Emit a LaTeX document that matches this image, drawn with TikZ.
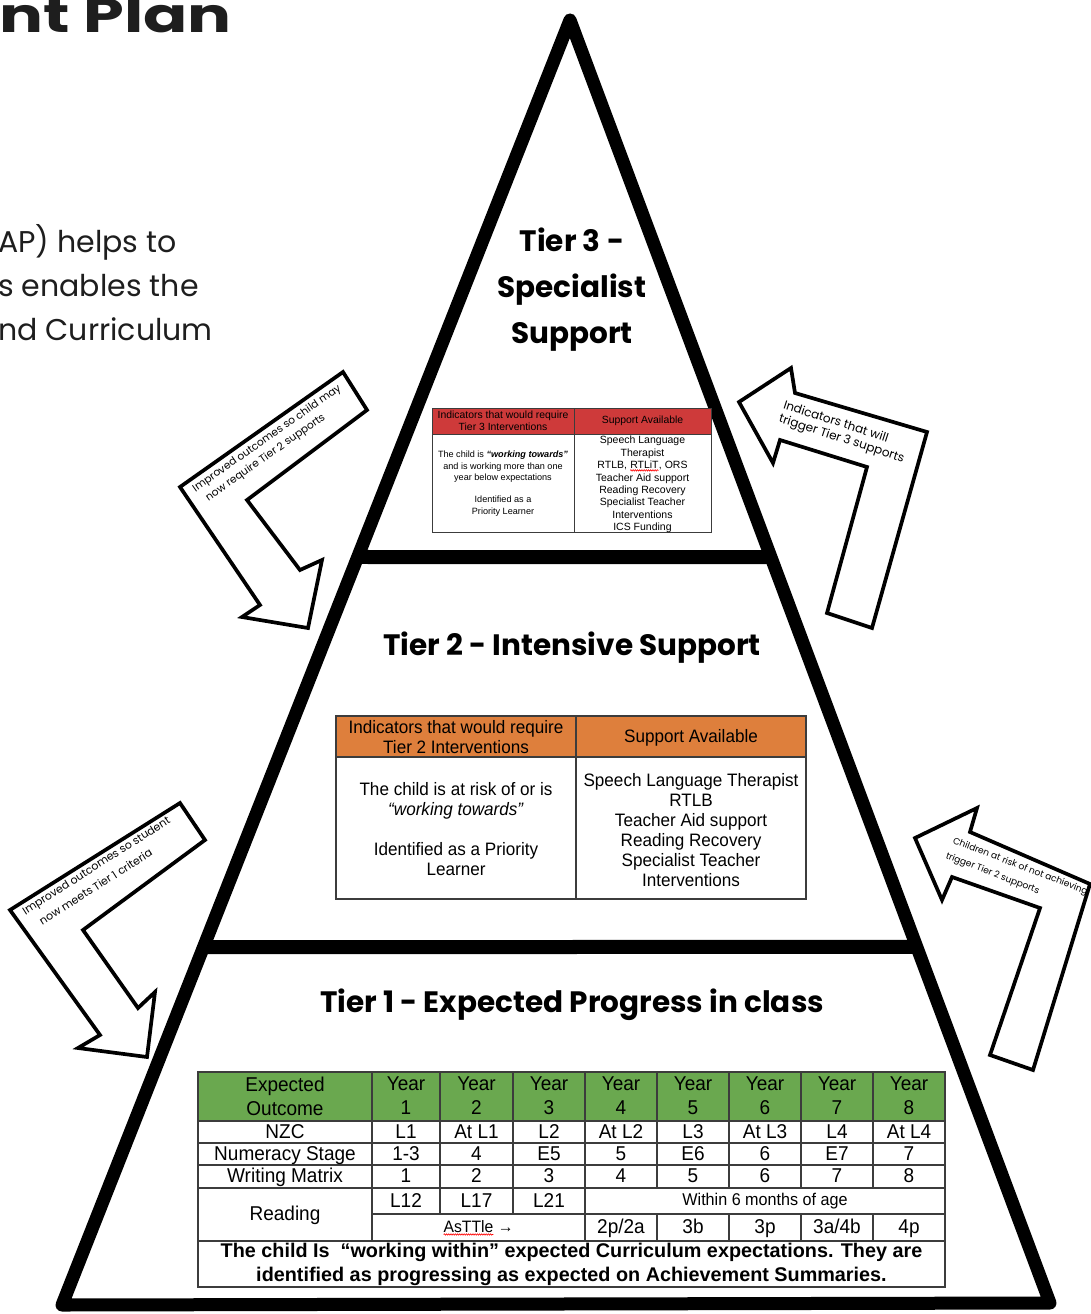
\documentclass[tikz,border=0pt]{standalone}
\usepackage{fontspec}
\setmainfont{Liberation Sans}
\newfontfamily\popf{Poppins}
\newfontfamily\tabf[FakeStretch=0.95]{Liberation Sans}
\usetikzlibrary{calc,decorations.pathmorphing}
\definecolor{tgreen}{RGB}{106,168,79}
\definecolor{tred}{RGB}{206,58,58}
\definecolor{torange}{RGB}{222,127,60}
\definecolor{gridc}{RGB}{60,60,60}
\definecolor{inktext}{RGB}{30,30,30}
\newcommand\wavy[1]{\tikz[baseline=(wv.base)]{\node[inner sep=0pt,outer sep=0pt] (wv) {#1};\draw[red,line width=0.6pt,decorate,decoration={snake,amplitude=0.7pt,segment length=2.2pt}] ([yshift=-1.8pt]wv.south west) -- ([yshift=-1.8pt]wv.south east);}}
\begin{document}
\begin{tikzpicture}[x=1pt,y=-1pt,
  pyr/.style={line width=13pt,line join=round,line cap=round},
  tierbar/.style={line width=14pt},
  bentarrow/.style={draw=black,fill=white,line width=3.7pt,line join=miter,miter limit=6},
  arrlabel/.style={inner sep=0pt,anchor=west},
  tiertitle/.style={font=\popf\bfseries\fontsize{29.5}{46}\selectfont,inner sep=0pt,align=center},
  gridl/.style={draw=gridc,line width=1.1pt},
  cell/.style={inner sep=0pt,align=center},
  t1font/.style={font=\tabf\fontsize{20}{24}\selectfont},
  onecell/.style={text height=14pt,text depth=3pt},
]
\useasboundingbox (0,0) rectangle (1091,1314);
\fill[white] (0,0) rectangle (1091,1314);

% title and intro text (cut by the page edge)
\begin{scope}
\clip (0,0) rectangle (1091,1314);
\node[inner sep=0pt,anchor=base east,text=inktext,font=\popf\bfseries\fontsize{48}{50}\selectfont] (title) at (232,33) {\scalebox{1.36}[1]{nt Plan}};
\end{scope}
\node[inner sep=0pt,anchor=base west,text=inktext,font=\popf\fontsize{30}{44}\selectfont] (intro1) at (-2,252) {AP) helps to};
\node[inner sep=0pt,anchor=base west,text=inktext,font=\popf\fontsize{30}{44}\selectfont] (intro2) at (-2,296) {s enables the};
\node[inner sep=0pt,anchor=base west,text=inktext,font=\popf\fontsize{30}{44}\selectfont] (intro3) at (-2,340) {nd Curriculum};

% pyramid
\coordinate (apex) at (570,20);
\coordinate (bl) at (62,1305);
\coordinate (br) at (1050,1303);
\draw[pyr] (apex) -- (br) -- (bl) -- cycle;
\coordinate (d1l) at ($(apex)!0.4179!(bl)$);
\coordinate (d1r) at ($(apex)!0.4186!(br)$);
\coordinate (d2l) at ($(apex)!0.7214!(bl)$);
\coordinate (d2r) at ($(apex)!0.7225!(br)$);
\draw[tierbar] (d1l) -- (d1r);
\draw[tierbar] (d2l) -- (d2r);

% bent arrows
\draw[bentarrow] (180,487) -- (343,372) -- (367,410) -- (247,500) -- (300,570) -- (322,560) -- (308,628) -- (242,617) -- (260,605) -- cycle;
\draw[bentarrow] (739,402) -- (791,368) -- (795,393) -- (927,432) -- (872,628) -- (827,613) -- (867,467) -- (780,440) -- (773,463) -- cycle;
\draw[bentarrow] (10,910) -- (180,803) -- (205,840) -- (83,930) -- (138,1008) -- (155,992) -- (147,1057) -- (78,1048) -- (100,1035) -- cycle;
\draw[bentarrow] (915,838) -- (977,808) -- (970,832) -- (1090,884) -- (1033,1070) -- (990,1055) -- (1040,908) -- (952,877) -- (942,900) -- cycle;

\node[arrlabel,rotate=35,font=\popf\fontsize{10.6}{12}\selectfont] (a1l1) at (194,490) {Improved outcomes so child may};
\node[arrlabel,rotate=35,font=\popf\fontsize{10.6}{12}\selectfont] (a1l2) at (207,499) {now require Tier 2 supports};
\node[arrlabel,rotate=-18,font=\popf\fontsize{12}{14}\selectfont] (a2l1) at (784,404) {Indicators that will};
\node[arrlabel,rotate=-18,font=\popf\fontsize{12}{14}\selectfont] (a2l2) at (779,419) {trigger Tier 3 supports};
\node[arrlabel,rotate=32.5,font=\popf\fontsize{11}{13}\selectfont] (a3l1) at (24,913) {Improved outcomes so student};
\node[arrlabel,rotate=32.5,font=\popf\fontsize{11}{13}\selectfont] (a3l2) at (40,922) {now meets Tier 1 criteria};
\node[arrlabel,rotate=-21,font=\popf\fontsize{9.1}{11}\selectfont] (a4l1) at (953,841) {Children at risk of not achieving};
\node[arrlabel,rotate=-21,font=\popf\fontsize{9.1}{11}\selectfont] (a4l2) at (946,856) {trigger Tier 2 supports};

% tier titles
\node[tiertitle] (t3title) at (572,290) {Tier 3 -\\Specialist\\Support};
\node[tiertitle] (t2title) at (572,648) {Tier 2 - Intensive Support};
\node[tiertitle] (t1title) at (572,1005) {Tier 1 - Expected Progress in class};

% tier 3 table
\fill[tred] (432,408) rectangle (711,434);
\draw[gridl,line width=0.9pt] (432,408) rectangle (711,532);
\draw[gridl,line width=0.9pt] (432,434) -- (711,434);
\draw[gridl,line width=0.9pt] (574,408) -- (574,532);
\node[cell,font=\fontsize{10.4}{12}\selectfont] (t3h1) at (503,421) {Indicators that would require\\Tier 3 Interventions};
\node[cell,font=\fontsize{10.4}{12}\selectfont] (t3h2) at (642.5,421) {Support Available};
\node[cell,anchor=north,font=\fontsize{9.1}{11.3}\selectfont] (t3b1) at (503,451) {The child is \textbf{\textit{“working towards”}}\\and is working more than one\\year below expectations\\[11.3pt]Identified as a\\Priority Learner};
\node[cell,anchor=north,font=\fontsize{10.5}{12.4}\selectfont] (t3b2) at (642.5,436) {Speech Language\\Therapist\\RTLB, \wavy{RTLiT}, ORS\\Teacher Aid support\\Reading Recovery\\Specialist Teacher\\Interventions\\ICS Funding};

% tier 2 table
\fill[torange] (336,716) rectangle (806,757);
\draw[gridl] (336,716) rectangle (806,899);
\draw[gridl] (336,757) -- (806,757);
\draw[gridl] (576,716) -- (576,899);
\node[cell,font=\tabf\fontsize{18}{20}\selectfont] (t2h1) at (456,737) {Indicators that would require\\Tier 2 Interventions};
\node[cell,font=\tabf\fontsize{18}{20}\selectfont] (t2h2) at (691,738) {Support Available};
\node[cell,anchor=north,font=\tabf\fontsize{18}{20}\selectfont] (t2b1) at (456,782) {The child is at risk of or is\\\textit{“working towards”}\\[20pt]Identified as a Priority\\Learner};
\node[cell,anchor=north,font=\tabf\fontsize{18}{20}\selectfont] (t2b2) at (691,773) {Speech Language Therapist\\RTLB\\Teacher Aid support\\Reading Recovery\\Specialist Teacher\\Interventions};

% tier 1 table
\fill[tgreen] (198,1072) rectangle (945,1121);
\draw[gridl] (198,1072) rectangle (945,1287);
\foreach \yy in {1121,1143,1165,1188,1241} \draw[gridl] (198,\yy) -- (945,\yy);
\draw[gridl] (372,1214) -- (945,1214);
\draw[gridl] (372,1072) -- (372,1241);
\foreach \xx in {440,513} \draw[gridl] (\xx,1072) -- (\xx,1214);
\draw[gridl] (585,1072) -- (585,1241);
\foreach \xx in {657,729,801,873} {\draw[gridl] (\xx,1072) -- (\xx,1188); \draw[gridl] (\xx,1214) -- (\xx,1241);}

\node[cell,t1font] (hexp) at (285,1096) {Expected\\Outcome};
\node[cell,t1font,onecell] (hnzc) at (285,1132.5) {NZC};
\node[cell,t1font,onecell] (hnum) at (285,1154.5) {Numeracy Stage};
\node[cell,t1font,onecell] (hwri) at (285,1177) {Writing Matrix};
\node[cell,t1font,onecell] (hrea) at (285,1215) {Reading};
\foreach \cx/\yr/\nz/\nu in {406/1/L1/1-3, 476.5/2/At L1/4, 549/3/L2/E5, 621/4/At L2/5, 693/5/L3/E6, 765/6/At L3/6, 837/7/L4/E7, 909/8/At L4/7} {
  \node[cell,t1font] (yr\yr) at (\cx,1096) {Year\\\yr};
  \node[cell,t1font,onecell] (nzc\yr) at (\cx,1132.5) {\nz};
  \node[cell,t1font,onecell] (num\yr) at (\cx,1154.5) {\nu};
  \node[cell,t1font,onecell] (wri\yr) at (\cx,1177) {\yr};
}
\node[cell,t1font,onecell] (rda1) at (406,1201.5) {L12};
\node[cell,t1font,onecell] (rda2) at (476.5,1201.5) {L17};
\node[cell,t1font,onecell] (rda3) at (549,1201.5) {L21};
\node[cell,font=\tabf\fontsize{17}{20}\selectfont] (rdaw) at (765,1201) {Within 6 months of age};
\node[cell,font=\tabf\fontsize{16.5}{20}\selectfont] (rdbas) at (478.5,1228) {\wavy{AsTTle} →};
\foreach \cx/\lab/\nm in {621/2p\slash 2a/b4, 693/3b/b5, 765/3p/b6, 837/3a\slash 4b/b7, 909/4p/b8} {
  \node[cell,t1font,onecell] (rd\nm) at (\cx,1228) {\lab};
}
\node[cell,font=\bfseries\fontsize{19.8}{24}\selectfont] (t1foot) at (571.5,1264) {The child Is\ \ “working within” expected Curriculum expectations. They are\\identified as progressing as expected on Achievement Summaries.};
\end{tikzpicture}
\end{document}
